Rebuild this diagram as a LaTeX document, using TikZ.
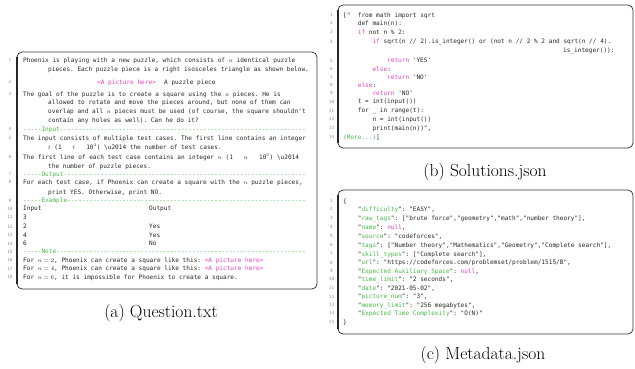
\documentclass[tikz,border=0pt]{standalone}
\usepackage{fontspec}
\setmonofont{DejaVu Sans Mono}

\definecolor{kwpink}{RGB}{232,62,190}
\definecolor{kwgreen}{RGB}{70,185,70}
\newcommand{\codefont}{\ttfamily\fontsize{7.32pt}{8pt}\selectfont}
\newcommand{\numfont}{\ttfamily\fontsize{5.2pt}{6pt}\selectfont}
\newcommand{\kw}[1]{\textcolor{kwpink}{#1}}
\newcommand{\jkey}[1]{"\textcolor{kwgreen}{#1}"}
\newcommand{\septext}[2]{\textcolor{kwgreen}{-----#1\foreach \i in {1,...,#2}{-}}}

\begin{document}
\begin{tikzpicture}[x=1.2pt,y=-1.2pt,
    code/.style={font=\codefont,text=black!85,anchor=west,inner sep=0pt,text height=5.2pt,text depth=0pt},
    lnum/.style={font=\numfont,text=black!45,inner sep=0pt,text height=3.8pt,text depth=0pt},
    filebox/.style={draw=black!80,line width=0.9pt,rounded corners=6pt},
    leftrule/.style={draw=black!85,line width=1.8pt},
    caption/.style={font=\fontsize{21pt}{24pt}\selectfont,inner sep=0pt}]
\useasboundingbox (0,0) rectangle (635,368);

% Question.txt
\draw[filebox] (17,52) rectangle (317,289);
\draw[leftrule] (17,57) -- (17,284);
\foreach \n/\y in {1/60,2/82,3/94,4/129.3,5/138,6/157.3,7/174,8/182.3,9/200.7,
    10/208.7,11/217.3,12/226.7,13/235,14/243.7,15/251.7,16/260,17/268.7,18/277}
    \node[lnum] (qn\n) at (10,\y) {\n};
\node[code] (q1) at (23,60) {Phoenix is playing with a new puzzle, which consists of $n$ identical puzzle};
\node[code] (q1w) at (48,69) {pieces. Each puzzle piece is a right isosceles triangle as shown below.};
\node[code] (q2p) at (97,82) {\kw{<A picture here>}};
\node[code] (q2t) at (164,82) {A puzzle piece};
\node[code] (q3) at (23,94) {The goal of the puzzle is to create a square using the $n$ pieces. He is};
\node[code] (q3w1) at (48,102.5) {allowed to rotate and move the pieces around, but none of them can};
\node[code] (q3w2) at (48,111.3) {overlap and all $n$ pieces must be used (of course, the square shouldn't};
\node[code] (q3w3) at (48,120.3) {contain any holes as well). Can he do it?};
\node[code] (q4) at (23,129.3) {\septext{Input}{67}};
\node[code] (q5) at (23,138) {The input consists of multiple test cases. The first line contains an integer};
\node[code] (q5w) at (48,147) {$t$ (1\ \ \ $t$\ \ \ 10$^4$) \textbackslash u2014 the number of test cases.};
\node[code] (q6) at (23,157.3) {The first line of each test case contains an integer $n$ (1\ \ \ $n$\ \ \ 10$^9$) \textbackslash u2014};
\node[code] (q6w) at (48,166) {the number of puzzle pieces.};
\node[code] (q7) at (23,174) {\septext{Output}{66}};
\node[code] (q8) at (23,182.3) {For each test case, if Phoenix can create a square with the $n$ puzzle pieces,};
\node[code] (q8w) at (48,192) {print YES. Otherwise, print NO.};
\node[code] (q9) at (23,200.7) {\septext{Example}{65}};
\node[code] (q10a) at (23,208.7) {Input};
\node[code] (q10b) at (149,208.7) {Output};
\node[code] (q11) at (23,217.3) {3};
\node[code] (q12a) at (23,226.7) {2};
\node[code] (q12b) at (149,226.7) {Yes};
\node[code] (q13a) at (23,235) {4};
\node[code] (q13b) at (149,235) {Yes};
\node[code] (q14a) at (23,243.7) {6};
\node[code] (q14b) at (149,243.7) {No};
\node[code] (q15) at (23,251.7) {\septext{Note}{68}};
\node[code] (q16) at (23,260) {For $n = 2$, Phoenix can create a square like this: \kw{<A picture here>}};
\node[code] (q17) at (23,268.7) {For $n = 4$, Phoenix can create a square like this: \kw{<A picture here>}};
\node[code] (q18) at (23,277) {For $n = 6$, it is impossible for Phoenix to create a square.};
\node[caption] (capq) at (161,313) {(a) Question.txt};

% Solutions.json
\draw[filebox] (338,5) rectangle (633,148);
\draw[leftrule] (338,10) -- (338,143);
\foreach \n/\y in {1/15,2/23.3,3/32.3,4/41.7,5/60.7,6/69.3,7/77.7,8/85,9/93.3,
    10/101.7,11/110.7,12/119.3,13/128.3,14/137}
    \node[lnum] (sn\n) at (331.5,\y) {\n};
\node[code] (s1) at (343,15) {["\ \ from math import sqrt};
\node[code] (s2) at (357.7,23.3) {def main(n):};
\node[code] (s3) at (357.7,32.3) {\kw{if} not n \% 2:};
\node[code] (s4) at (372.4,41.7) {\kw{if} sqrt(n // 2).is\_integer() or (not n // 2 \% 2 and sqrt(n // 4).};
\node[code] (s4w) at (563,50.7) {is\_integer()):};
\node[code] (s5) at (387,60.7) {\kw{return} 'YES'};
\node[code] (s6) at (372.4,69.3) {\kw{else}:};
\node[code] (s7) at (387,77.7) {\kw{return} 'NO'};
\node[code] (s8) at (357.7,85) {\kw{else}:};
\node[code] (s9) at (372.4,93.3) {\kw{return} 'NO'};
\node[code] (s10) at (357.7,101.7) {t = int(input())};
\node[code] (s11) at (357.7,110.7) {for \_ in range(t):};
\node[code] (s12) at (372.4,119.3) {n = int(input())};
\node[code] (s13) at (372.4,128.3) {print(main(n))",};
\node[code] (s14) at (343,137) {\textcolor{kwgreen}{(More...)}]};
\node[caption] (caps) at (485,172) {(b) Solutions.json};

% Metadata.json
\draw[filebox] (338,190) rectangle (633,334);
\draw[leftrule] (338,195) -- (338,329);
\foreach \n/\y in {1/201,2/209.3,3/218.3,4/227.3,5/236,6/245,7/254,8/262.5,9/271,
    10/279.3,11/288.3,12/296.7,13/305,14/313.3,15/322.3}
    \node[lnum] (mn\n) at (331.5,\y) {\n};
\node[code] (m1) at (343,201) {\{};
\node[code] (m2) at (357.7,209.3) {\jkey{difficulty}: "EASY",};
\node[code] (m3) at (357.7,218.3) {\jkey{raw\_tags}: ["brute force","geometry","math","number theory"],};
\node[code] (m4) at (357.7,227.3) {\jkey{name}: \kw{null},};
\node[code] (m5) at (357.7,236) {\jkey{source}: "codeforces",};
\node[code] (m6) at (357.7,245) {\jkey{tags}: ["Number theory","Mathematics","Geometry","Complete search"],};
\node[code] (m7) at (357.7,254) {\jkey{skill\_types}: ["Complete search"],};
\node[code] (m8) at (357.7,262.5) {\jkey{url}: "https://codeforces.com/problemset/problem/1515/B",};
\node[code] (m9) at (357.7,271) {\jkey{Expected Auxiliary Space}: \kw{null},};
\node[code] (m10) at (357.7,279.3) {\jkey{time\_limit}: "2 seconds",};
\node[code] (m11) at (357.7,288.3) {\jkey{date}: "2021-05-02",};
\node[code] (m12) at (357.7,296.7) {\jkey{picture\_num}: "3",};
\node[code] (m13) at (357.7,305) {\jkey{memory\_limit}: "256 megabytes",};
\node[code] (m14) at (357.7,313.3) {\jkey{Expected Time Complexity}: "O(N)"};
\node[code] (m15) at (343,322.3) {\}};
\node[caption] (capm) at (483,355) {(c) Metadata.json};
\end{tikzpicture}
\end{document}
